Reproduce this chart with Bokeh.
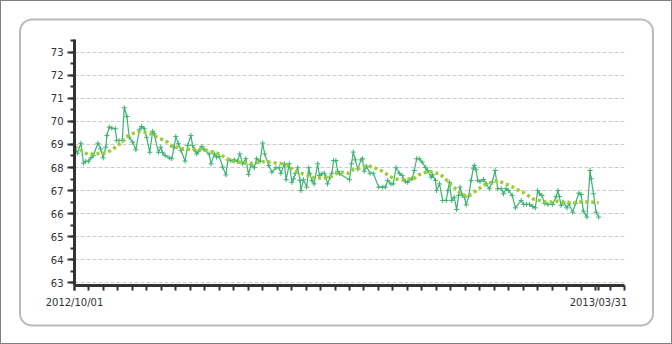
import base64
from bokeh.plotting import figure
from bokeh.models import ColumnDataSource, FixedTicker, Range1d
from bokeh.embed import file_html
from bokeh.resources import INLINE

# green daily series: day offset from 2012/10/01, value
days = [0.2, 1.0, 2.2, 3.1, 3.9, 4.8, 5.7, 6.5, 8.1, 9.0, 9.9, 10.8, 11.2, 12.0, 12.9, 14.1, 14.6, 15.4,
        16.5, 17.2, 18.1, 18.9, 20.1, 21.2, 22.4, 23.2, 24.1, 24.9, 26.0, 27.0, 27.5, 29.0, 29.8, 30.4,
        31.3, 32.7, 33.6, 34.4, 35.0, 35.9, 36.8, 38.2, 39.1, 40.2, 40.8, 41.4, 42.2, 42.9, 44.0, 44.8,
        46.5, 47.2, 48.3, 49.1, 50.0, 51.2, 52.3, 53.0, 54.0, 55.2, 56.3, 57.1, 58.1, 59.2, 60.1, 61.0,
        62.1, 62.9, 64.1, 65.0, 65.7, 67.1, 68.2, 69.6, 70.7, 71.3, 72.5, 73.1, 74.2, 75.1, 75.7, 76.3,
        77.1, 77.9, 78.2, 79.1, 80.2, 80.9, 81.3, 82.0, 82.8, 84.0, 84.6, 85.5, 86.3, 86.9, 87.4, 88.3,
        88.9, 89.5, 90.3, 90.9, 91.5, 95.0, 95.7, 96.3, 97.0, 97.8, 99.0, 99.5, 100.1, 100.9, 102.1, 103.2,
        105.1, 106.5, 107.4, 108.2, 109.3, 110.1, 111.1, 112.2, 113.2, 114.3, 115.1, 116.6, 117.4, 118.2,
        119.1, 120.1, 121.2, 122.0, 123.2, 123.7, 124.7, 125.1, 126.1, 127.2, 128.4, 129.0, 129.5, 130.3,
        131.2, 132.0, 132.7, 133.2, 133.9, 134.7, 135.3, 136.2, 137.0, 137.8, 138.1, 138.7, 139.3, 140.1,
        141.3, 142.2, 143.3, 144.3, 145.3, 146.2, 147.4, 148.2, 149.1, 150.0, 151.2, 152.3, 154.3, 155.2,
        156.2, 157.2, 158.3, 159.2, 160.0, 160.6, 161.5, 162.3, 163.5, 165.2, 166.4, 167.0, 167.5, 168.1,
        168.9, 170.1, 170.8, 172.1, 173.1, 174.2, 175.0, 175.8, 177.0, 178.1, 178.5, 179.3, 180.2, 181.1]
values = [68.88, 68.62, 69.05, 68.19, 68.27, 68.27, 68.42, 68.52, 69.05, 68.81, 68.42, 68.88, 69.39, 69.75,
          69.71, 69.68, 69.17, 69.17, 69.17, 70.59, 70.21, 69.31, 69.10, 68.77, 69.63, 69.78, 69.68, 69.31,
          68.66, 69.57, 69.46, 68.66, 68.88, 68.66, 68.52, 68.42, 68.38, 68.88, 69.34, 69.03, 68.74, 68.28,
          68.95, 69.39, 68.95, 68.77, 68.59, 68.71, 68.91, 68.77, 68.59, 68.16, 68.59, 68.45, 68.48, 68.02,
          67.68, 68.33, 68.30, 68.33, 68.27, 68.59, 68.16, 68.38, 67.70, 68.13, 67.99, 68.38, 68.27, 69.06,
          68.59, 68.09, 67.80, 67.99, 67.99, 67.75, 68.16, 67.47, 68.16, 67.36, 67.51, 67.75, 67.99, 67.44,
          67.00, 67.47, 67.15, 67.99, 67.73, 67.44, 67.29, 68.16, 67.65, 67.73, 67.75, 67.58, 67.29, 67.58,
          67.75, 68.30, 68.30, 67.84, 67.73, 67.47, 68.16, 68.67, 68.33, 67.94, 68.33, 68.38, 67.84, 68.04,
          67.75, 67.75, 67.15, 67.15, 67.15, 67.44, 67.29, 67.29, 67.99, 67.75, 67.65, 67.39, 67.36, 67.51,
          67.87, 68.38, 68.38, 68.23, 68.01, 67.87, 67.58, 67.68, 67.44, 67.00, 67.29, 66.57, 66.57, 67.00,
          67.36, 66.57, 66.71, 66.18, 66.79, 67.15, 66.81, 66.71, 66.38, 66.76, 67.44, 67.97, 68.09, 67.91,
          67.44, 67.39, 67.48, 67.29, 67.08, 67.36, 67.87, 67.08, 67.08, 66.86, 67.08, 67.00, 66.79, 66.25,
          66.57, 66.40, 66.40, 66.40, 66.31, 66.25, 67.00, 66.86, 66.79, 66.45, 66.40, 66.40, 66.74, 67.00,
          66.74, 66.35, 66.50, 66.25, 66.43, 66.06, 66.45, 66.89, 66.83, 66.11, 65.85, 67.87, 67.51, 66.86,
          66.06, 65.85]

# yellow-green trend series
trend_days = [0.0, 1.8, 3.3, 4.8, 6.8, 9.1, 10.8, 12.6, 14.5, 16.4, 18.7, 20.6, 22.4, 24.1, 26.4, 28.7,
              30.6, 32.1, 33.9, 35.6, 37.3, 40.8, 42.9, 44.8, 46.5, 48.6, 50.6, 52.1, 54.0, 55.8, 57.8,
              59.8, 62.1, 64.1, 65.9, 67.9, 69.8, 71.9, 74.0, 75.4, 77.1, 78.8, 80.9, 82.8, 84.6, 86.6,
              88.6, 90.6, 92.4, 94.7, 96.1, 97.8, 99.8, 101.6, 103.6, 105.5, 107.4, 109.0, 110.5, 112.4,
              114.3, 115.9, 117.1, 118.9, 120.9, 122.6, 124.3, 126.1, 128.1, 130.1, 132.4, 134.1, 135.9,
              137.6, 139.3, 141.0, 142.8, 144.5, 146.2, 147.9, 149.7, 151.4, 153.1, 154.9, 156.6, 158.3,
              160.6, 162.9, 165.0, 167.0, 168.7, 170.4, 172.1, 174.4, 176.5, 178.5, 181.1]
trend_values = [68.88, 68.80, 68.66, 68.56, 68.59, 68.62, 68.63, 68.74, 68.91, 69.10, 69.40, 69.49, 69.55,
                69.53, 69.46, 69.29, 69.20, 69.10, 68.88, 68.88, 68.81, 68.77, 68.81, 68.77, 68.71, 68.66,
                68.55, 68.42, 68.30, 68.23, 68.23, 68.16, 68.19, 68.23, 68.27, 68.22, 68.19, 68.16, 68.09,
                67.90, 67.80, 67.73, 67.65, 67.55, 67.55, 67.55, 67.61, 67.75, 67.80, 67.75, 67.90, 67.94,
                68.04, 68.07, 67.99, 67.90, 67.75, 67.61, 67.51, 67.47, 67.48, 67.51, 67.51, 67.68, 67.77,
                67.83, 67.77, 67.73, 67.51, 67.25, 67.00, 66.81, 66.76, 66.90, 67.05, 67.19, 67.32, 67.36,
                67.44, 67.34, 67.25, 67.15, 67.03, 66.93, 66.79, 66.64, 66.57, 66.50, 66.50, 66.54, 66.50,
                66.50, 66.45, 66.50, 66.50, 66.50, 66.47]

y_ticks = [63, 64, 65, 66, 67, 68, 69, 70, 71, 72, 73]
y_minor_ticks = [63, 63.5, 64, 64.5, 65, 65.5, 66, 66.5, 67, 67.5, 68, 68.5, 69, 69.5, 70, 70.5,
                 71, 71.5, 72, 72.5, 73, 73.5]
x_minor_ticks = list(range(0, 191, 5))
x_label_ticks = [0, 181]
x_labels = ["2012/10/01", "2013/03/31"]

src = ColumnDataSource(data=dict(x=days, y=values))
tsrc = ColumnDataSource(data=dict(x=trend_days, y=trend_values))

# decorative page frame (outer grey border + inner rounded panel) as a CSS background
deco_svg = (
    '<svg xmlns="http://www.w3.org/2000/svg" width="672" height="344">'
    '<rect x="0.5" y="0.5" width="671" height="343" fill="white" stroke="#808080" stroke-width="1"/>'
    '<rect x="20" y="19.5" width="633" height="306" rx="12" ry="12" fill="white" '
    'stroke="#bbbbbb" stroke-width="2"/>'
    '</svg>'
)
deco_url = "url(data:image/svg+xml;base64," + base64.b64encode(deco_svg.encode()).decode() + ")"

p = figure(width=672, height=344, output_backend="svg", toolbar_location=None,
           x_range=Range1d(0, 190), y_range=Range1d(62.883, 73.551),
           min_border_left=74, min_border_right=48, min_border_top=39, min_border_bottom=59,
           background_fill_color=None, border_fill_color=None,
           styles={"background-image": deco_url, "background-repeat": "no-repeat",
                   "background-position": "0 0"})
p.outline_line_color = None

FONT = "DejaVu Sans"
AX = "#333333"

xt = FixedTicker(ticks=x_label_ticks, minor_ticks=x_minor_ticks)
yt = FixedTicker(ticks=y_ticks, minor_ticks=y_minor_ticks)
p.xaxis.ticker = xt
p.yaxis.ticker = yt
p.xaxis.major_label_overrides = {t: lab for t, lab in zip(x_label_ticks, x_labels)}

for ax in (p.xaxis[0], p.yaxis[0]):
    ax.axis_line_color = AX
    ax.axis_line_width = 3
    ax.major_tick_line_color = AX
    ax.minor_tick_line_color = AX
    ax.major_tick_line_width = 2
    ax.minor_tick_line_width = 2
    ax.major_tick_in = 0
    ax.minor_tick_in = 0
    ax.major_label_text_font = FONT
    ax.major_label_text_font_size = "10px"
    ax.major_label_text_color = AX

p.yaxis.major_tick_out = 7
p.yaxis.minor_tick_out = 4
p.yaxis.major_label_standoff = 4
p.xaxis.major_tick_out = 5
p.xaxis.minor_tick_out = 5
p.xaxis.major_label_standoff = 6

p.xgrid.visible = False
p.ygrid.ticker = yt
p.ygrid.grid_line_color = "#cccccc"
p.ygrid.grid_line_dash = "4 2"
p.ygrid.grid_line_width = 1

p.line("x", "y", source=src, line_color="#3cb371", line_width=1.2)
p.scatter("x", "y", source=src, marker="cross", size=5, line_color="#3cb371", line_width=1)
p.line("x", "y", source=tsrc, line_color="#9acd32", line_width=3.5, line_dash="3 3")

open("out.html", "w").write(file_html(p, INLINE))
